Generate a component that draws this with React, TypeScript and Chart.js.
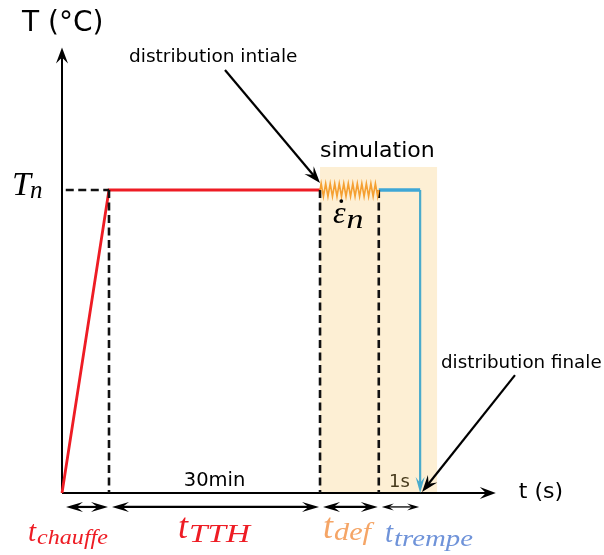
import React, { useEffect, useRef } from 'react';
import { Chart, registerables } from 'chart.js';
Chart.register(...registerables);

// ---- schematic data (time in arbitrary units, temperature with Tn = 100) ----
const phaseBounds = [0, 1, 5.49, 6.74, 7.62]; // start, end chauffe, end TTH, end def, end trempe
const phaseSub = ['chauffe', 'TTH', 'def', 'trempe'];
const phaseColors = ['#ee1c24', '#ee1c24', '#f5a566', '#6f93d9'];
const heatTime = [0, 1, 5.49];
const heatTemp = [0, 100, 100];
const quenchHTime = [6.74, 7.62];
const quenchHTemp = [100, 100];
const quenchVTime = [7.62, 7.62];
const quenchVTemp = [100, 3];
const Tn = 100;
const shadeEnd = 7.98;
const shadeTop = 107.6;
const xAxisEnd = 9.23;
const yAxisEnd = 147;
const dimY = -4.6;

// label anchors (data units)
const labTX = [-0.723, 2.468, 5.553, 6.872];
const labTY = [-15.84, -14.85, -14.85, -16.17];
const labSY = [-16.83, -16.17, -15.51, -17.49];

const X_MIN = -62 / 47;
const X_MAX = (604 - 62) / 47;
const Y_MIN = (493 - 555) / 3.03;
const Y_MAX = 493 / 3.03;

const SANS = '"DejaVu Sans", Verdana, sans-serif';
const SERIF = '"Liberation Serif", "DejaVu Serif", serif';

function pts(xs: number[], ys: number[]) {
  return xs.map((x, i) => ({ x, y: ys[i] }));
}

function arrowHead(ctx: CanvasRenderingContext2D, tx: number, ty: number, ang: number, len: number, hw: number, color = '#000') {
  const dx = Math.cos(ang), dy = Math.sin(ang);
  const px = -dy, py = dx;
  ctx.save();
  ctx.fillStyle = color;
  ctx.beginPath();
  ctx.moveTo(tx, ty);
  ctx.lineTo(tx - len * dx + hw * px, ty - len * dy + hw * py);
  ctx.lineTo(tx - 0.62 * len * dx, ty - 0.62 * len * dy);
  ctx.lineTo(tx - len * dx - hw * px, ty - len * dy - hw * py);
  ctx.closePath();
  ctx.fill();
  ctx.restore();
}

function arrowLine(ctx: CanvasRenderingContext2D, x1: number, y1: number, x2: number, y2: number, w: number, len: number, hw: number, both = false) {
  const ang = Math.atan2(y2 - y1, x2 - x1);
  ctx.save();
  ctx.strokeStyle = '#000';
  ctx.lineWidth = w;
  ctx.beginPath();
  ctx.moveTo(x1 + (both ? Math.cos(ang) * len * 0.6 : 0), y1 + (both ? Math.sin(ang) * len * 0.6 : 0));
  ctx.lineTo(x2 - Math.cos(ang) * len * 0.6, y2 - Math.sin(ang) * len * 0.6);
  ctx.stroke();
  ctx.restore();
  arrowHead(ctx, x2, y2, ang, len, hw);
  if (both) arrowHead(ctx, x1, y1, ang + Math.PI, len, hw);
}

// draws text with optional horizontal fit; returns drawn width
function fitText(ctx: CanvasRenderingContext2D, text: string, x: number, y: number, font: string, width: number | null) {
  ctx.save();
  ctx.font = font;
  ctx.textAlign = 'left';
  ctx.textBaseline = 'alphabetic';
  const w = ctx.measureText(text).width;
  const s = width ? width / w : 1;
  ctx.translate(x, y);
  ctx.scale(s, 1);
  ctx.fillText(text, 0, 0);
  ctx.restore();
  return w * s;
}

const baseSizes = [29, 36, 36, 29];
const subSizes = [21, 25, 25, 23];
const subEnds = [108, 250, 371, 473];

const schemePlugin = {
  id: 'scheme',
  beforeDatasetsDraw(chart: any) {
    const { ctx } = chart;
    const xs = chart.scales.x, ys = chart.scales.y;
    const X = (u: number) => xs.getPixelForValue(u);
    const Y = (v: number) => ys.getPixelForValue(v);
    ctx.save();
    ctx.fillStyle = '#fdefd4';
    ctx.fillRect(X(phaseBounds[2]), Y(shadeTop), X(shadeEnd) - X(phaseBounds[2]), Y(0) - Y(shadeTop));
    ctx.restore();
    // axes
    arrowLine(ctx, X(0), Y(0), X(xAxisEnd), Y(0), 2, 16, 6);
    arrowLine(ctx, X(0), Y(0), X(0), Y(yAxisEnd), 2, 16, 6);
  },
  afterDatasetsDraw(chart: any) {
    const { ctx } = chart;
    const xs = chart.scales.x, ys = chart.scales.y;
    const X = (u: number) => xs.getPixelForValue(u);
    const Y = (v: number) => ys.getPixelForValue(v);

    // spring (deformation) between end TTH and end def
    const zx0 = X(phaseBounds[2]), zx1 = X(phaseBounds[3]);
    const teeth = 13;
    ctx.save();
    ctx.strokeStyle = '#f5a032';
    ctx.lineWidth = 1.6;
    ctx.beginPath();
    ctx.moveTo(zx0, Y(Tn));
    for (let i = 0; i < teeth * 2; i++) {
      const xx = zx0 + ((i + 0.5) / (teeth * 2)) * (zx1 - zx0);
      ctx.lineTo(xx, i % 2 === 0 ? Y(Tn) - 6.5 : Y(Tn) + 6.5);
    }
    ctx.lineTo(zx1, Y(Tn));
    ctx.stroke();
    ctx.restore();

    // quench arrow head
    arrowHead(ctx, X(quenchVTime[1]), Y(0), Math.PI / 2, 16, 4.5, '#4aabcc');

    // dimension arrows
    for (let i = 0; i < phaseSub.length; i++) {
      const a = X(phaseBounds[i]) + 3, b = X(phaseBounds[i + 1]) - 1;
      const thin = i === 3;
      arrowLine(ctx, a + (i === 0 ? 1 : 0), Y(dimY), b, Y(dimY), thin ? 1.3 : 2.2, thin ? 12 : 17, thin ? 3.5 : 5, true);
    }

    // text labels
    ctx.save();
    ctx.fillStyle = '#000';
    ctx.textBaseline = 'alphabetic';
    ctx.textAlign = 'left';
    ctx.font = `28px ${SANS}`;
    ctx.fillText('T (°C)', X(-0.85), Y(152.5));
    ctx.font = `22px ${SANS}`;
    ctx.fillText('t (s)', X(9.72), Y(-1.65));
    ctx.fillText('simulation', X(5.49), Y(110.9));
    ctx.font = `18.5px ${SANS}`;
    ctx.fillText('distribution intiale', X(1.426), Y(142.2));
    ctx.font = `18.3px ${SANS}`;
    ctx.fillText('distribution finale', X(8.064), Y(41.25));
    ctx.textAlign = 'center';
    ctx.font = `19.5px ${SANS}`;
    ctx.fillText('30min', X((phaseBounds[1] + phaseBounds[2]) / 2), Y(2.3));
    ctx.textAlign = 'left';
    ctx.fillStyle = '#473a1c';
    ctx.font = `18px ${SANS}`;
    ctx.fillText('1s', X(6.957), Y(2.0));
    ctx.restore();

    // annotation arrows
    arrowLine(ctx, X(3.468), Y(139.6), X(5.49), Y(102.3), 2.2, 17, 6);
    arrowLine(ctx, X(9.638), Y(38.9), X(7.66), Y(0.33), 2.2, 17, 6);

    // T_n
    ctx.save();
    ctx.fillStyle = '#000';
    const tw = fitText(ctx, 'T', X(-1.064), Y(98.35), `italic 34px ${SERIF}`, null);
    fitText(ctx, 'n', X(-1.064) + tw - 1, Y(97.36), `italic 25px ${SERIF}`, null);
    // epsilon dot n
    const ew = fitText(ctx, 'ε', X(5.766), Y(89.1), `italic 32px ${SERIF}`, null);
    ctx.beginPath();
    ctx.arc(X(5.766) + ew / 2 + 2, Y(89.1) - 22, 1.9, 0, Math.PI * 2);
    ctx.fill();
    fitText(ctx, 'n', X(5.766) + ew + 1, Y(87.46), `italic 27px ${SERIF}`, 17);
    ctx.restore();

    for (let i = 0; i < phaseSub.length; i++) {
      ctx.save();
      ctx.fillStyle = phaseColors[i];
      const x0 = X(labTX[i]);
      const w0 = fitText(ctx, 't', x0, Y(labTY[i]), `italic ${baseSizes[i]}px ${SERIF}`, null);
      const sx = x0 + w0 + 1;
      fitText(ctx, phaseSub[i], sx, Y(labSY[i]), `italic ${subSizes[i]}px ${SERIF}`, subEnds[i] - sx);
      ctx.restore();
    }
  },
};

export default function App() {
  const ref = useRef<HTMLCanvasElement | null>(null);
  useEffect(() => {
    if (!ref.current) return;
    const dash = (u: number) => ({
      data: pts([u, u], [Tn, 0]),
      borderColor: '#111', borderWidth: 2.6, borderDash: [8, 4.5], pointRadius: 0, showLine: true,
    });
    const chart = new Chart(ref.current, {
      type: 'scatter',
      data: {
        datasets: [
          { data: pts([0.08, phaseBounds[1]], [Tn, Tn]), borderColor: '#111', borderWidth: 2.6, borderDash: [8, 4.5], pointRadius: 0, showLine: true },
          dash(phaseBounds[1]),
          dash(phaseBounds[2]),
          dash(phaseBounds[3]),
          { data: pts(heatTime, heatTemp), borderColor: '#ee1c24', borderWidth: 2.8, pointRadius: 0, showLine: true },
          { data: pts(quenchHTime, quenchHTemp), borderColor: '#3fa7d6', borderWidth: 3.5, pointRadius: 0, showLine: true },
          { data: pts(quenchVTime, quenchVTemp), borderColor: '#4aabcc', borderWidth: 2.2, pointRadius: 0, showLine: true },
        ] as any,
      },
      options: {
        animation: false,
        responsive: false,
        devicePixelRatio: 1,
        layout: { padding: 0 },
        plugins: { legend: { display: false }, tooltip: { enabled: false } },
        scales: {
          x: { type: 'linear', display: false, min: X_MIN, max: X_MAX },
          y: { type: 'linear', display: false, min: Y_MIN, max: Y_MAX },
        },
        clip: false,
      } as any,
      plugins: [schemePlugin],
    });
    return () => chart.destroy();
  }, []);
  return (
    <div style={{ position: 'fixed', left: 0, top: 0, width: 604, height: 555, background: '#fff' }}>
      <canvas ref={ref} width={604} height={555} style={{ display: 'block' }} />
    </div>
  );
}
